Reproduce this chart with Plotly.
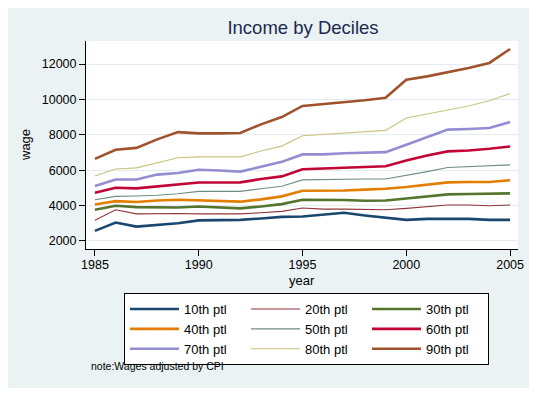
import plotly.graph_objects as go

years = list(range(1985, 2006))

p10 = [2570, 3040, 2810, 2890, 3000, 3160, 3190, 3190, 3270, 3360, 3380, 3480, 3590, 3440, 3330, 3190, 3250, 3250, 3250, 3190, 3190]
p20 = [3170, 3760, 3530, 3550, 3550, 3530, 3530, 3530, 3590, 3670, 3860, 3800, 3800, 3760, 3760, 3840, 3950, 4030, 4030, 3990, 4030]
p30 = [3760, 3990, 3910, 3890, 3890, 3950, 3890, 3840, 3950, 4080, 4330, 4330, 4310, 4270, 4290, 4400, 4520, 4630, 4650, 4650, 4690]
p40 = [4060, 4250, 4200, 4290, 4330, 4290, 4270, 4220, 4350, 4520, 4840, 4840, 4850, 4900, 4950, 5050, 5160, 5310, 5330, 5330, 5430]
p50 = [4330, 4520, 4540, 4580, 4670, 4800, 4800, 4800, 4950, 5090, 5450, 5480, 5480, 5500, 5500, 5690, 5920, 6150, 6200, 6260, 6300]
p60 = [4730, 5010, 4970, 5090, 5220, 5300, 5300, 5310, 5500, 5650, 6050, 6090, 6110, 6170, 6220, 6550, 6830, 7060, 7110, 7210, 7340]
p70 = [5100, 5470, 5470, 5750, 5840, 6020, 5980, 5920, 6190, 6470, 6890, 6890, 6960, 7000, 7020, 7440, 7850, 8290, 8330, 8380, 8720]
p80 = [5670, 6070, 6130, 6410, 6700, 6750, 6750, 6750, 7080, 7360, 7950, 8020, 8120, 8190, 8250, 8950, 9180, 9400, 9630, 9920, 10330]
p90 = [6640, 7150, 7260, 7740, 8150, 8080, 8080, 8100, 8590, 9000, 9630, 9730, 9820, 9950, 10090, 11110, 11300, 11530, 11770, 12060, 12850]

series_names = ["10th ptl", "20th ptl", "30th ptl", "40th ptl", "50th ptl",
                "60th ptl", "70th ptl", "80th ptl", "90th ptl"]
series_values = [p10, p20, p30, p40, p50, p60, p70, p80, p90]
colors = ["#1a476f", "#90353b", "#55752f", "#e37e00", "#6e8e84",
          "#c10534", "#938dd2", "#cac27e", "#a0522d"]
widths = [2.6, 1.1, 2.6, 2.6, 1.1, 2.6, 2.6, 1.1, 2.6]

x_ticks = [1985, 1990, 1995, 2000, 2005]
y_ticks = [2000, 4000, 6000, 8000, 10000, 12000]

FONT = "Liberation Sans, Arial, sans-serif"

# page body has an 8px default margin; figure sized so its background ends where the reference's does
W, H = 524, 380
PL, PR, PT, PB = 78, 510, 33, 241   # plot area in figure pixels

fig = go.Figure()
for name, vals, c, w in zip(series_names, series_values, colors, widths):
    fig.add_trace(go.Scatter(x=years, y=vals, mode="lines", name=name,
                             line=dict(color=c, width=w)))

pw, ph = PR - PL, PB - PT

fig.update_layout(
    width=W, height=H,
    margin=dict(l=PL, r=W - PR, t=PT, b=H - PB, autoexpand=False),
    paper_bgcolor="#eaf2f3",
    plot_bgcolor="white",
    font=dict(family=FONT, color="black", size=12.5),
    title=dict(text="Income by Deciles", x=295 / W, xanchor="center",
               y=1 - 20 / H, yanchor="middle",
               font=dict(size=18.5, color="#1c2a4f", family=FONT)),
    showlegend=True,
    legend=dict(
        orientation="h",
        xref="container", yref="container",
        x=116 / W, xanchor="left",
        y=1 - 285 / H, yanchor="top",
        bgcolor="white", bordercolor="black", borderwidth=1,
        font=dict(size=13, color="black", family=FONT),
        itemwidth=49,
        entrywidth=57,
        traceorder="normal",
    ),
    xaxis=dict(
        range=[1984.57, 2005.38], tickvals=x_ticks, ticks="outside", ticklen=6,
        tickcolor="black", showline=True, linecolor="black", linewidth=1,
        showgrid=False, zeroline=False, automargin=False,
        ticklabelstandoff=-2,
        tickfont=dict(size=12.5, color="black"),
    ),
    yaxis=dict(
        range=[1545, 13300], tickvals=y_ticks, tickformat="d", ticks="outside", ticklen=6,
        tickcolor="black", showline=True, linecolor="black", linewidth=1,
        showgrid=True, gridcolor="#e3ecee", gridwidth=1, zeroline=False,
        automargin=False,
        tickfont=dict(size=12.5, color="black"),
    ),
    annotations=[
        dict(text="year", xref="paper", yref="paper", x=0.5, xanchor="center",
             y=-(272 - PB) / ph, yanchor="middle", showarrow=False,
             font=dict(size=13, color="black", family=FONT)),
        dict(text="wage", xref="paper", yref="paper", textangle=-90,
             x=(17 - PL) / pw, xanchor="center", y=0.5, yanchor="middle",
             showarrow=False, font=dict(size=13, color="black", family=FONT)),
        dict(text="note:Wages adjusted by CPI", xref="paper", yref="paper",
             x=(81 - PL) / pw, xanchor="left",
             y=-(358 - PB) / ph, yanchor="middle", showarrow=False,
             font=dict(size=10.5, color="black", family=FONT)),
    ],
)

fig.write_html("out.html")
